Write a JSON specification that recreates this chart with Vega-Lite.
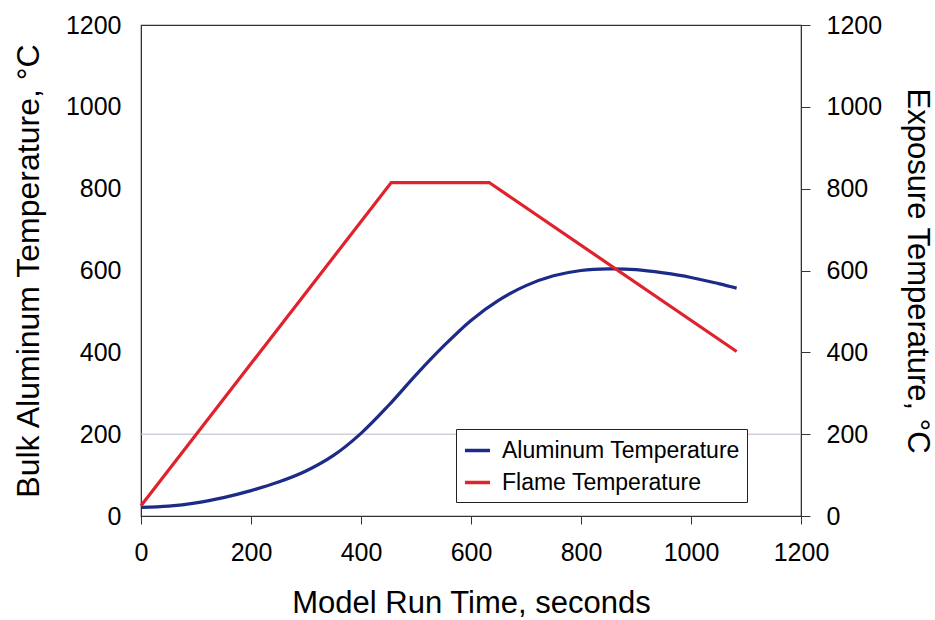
{
  "$schema": "https://vega.github.io/schema/vega-lite/v6.json",
  "autosize": {"type": "none"},
  "padding": {"left": 141, "top": 25, "right": 134, "bottom": 104},
  "width": 660,
  "height": 491,
  "background": "white",
  "config": {
    "font": "Liberation Sans",
    "view": {"stroke": "#333333", "strokeWidth": 1.2},
    "axis": {
      "labelFont": "Liberation Sans",
      "titleFont": "Liberation Sans",
      "labelColor": "black",
      "titleColor": "black",
      "labelFontSize": 25,
      "titleFontSize": 31,
      "titleFontWeight": "normal",
      "domainColor": "#333333",
      "tickColor": "#333333",
      "grid": false,
      "format": "d"
    }
  },
  "datasets": {
    "temps": [
      {"t": 0, "series": "Aluminum Temperature", "v": 21},
      {"t": 50, "series": "Aluminum Temperature", "v": 24},
      {"t": 100, "series": "Aluminum Temperature", "v": 32},
      {"t": 150, "series": "Aluminum Temperature", "v": 45},
      {"t": 200, "series": "Aluminum Temperature", "v": 62},
      {"t": 250, "series": "Aluminum Temperature", "v": 83},
      {"t": 300, "series": "Aluminum Temperature", "v": 110},
      {"t": 350, "series": "Aluminum Temperature", "v": 148},
      {"t": 400, "series": "Aluminum Temperature", "v": 202},
      {"t": 450, "series": "Aluminum Temperature", "v": 270},
      {"t": 500, "series": "Aluminum Temperature", "v": 345},
      {"t": 550, "series": "Aluminum Temperature", "v": 415},
      {"t": 600, "series": "Aluminum Temperature", "v": 478},
      {"t": 650, "series": "Aluminum Temperature", "v": 527},
      {"t": 700, "series": "Aluminum Temperature", "v": 563},
      {"t": 750, "series": "Aluminum Temperature", "v": 587},
      {"t": 800, "series": "Aluminum Temperature", "v": 600},
      {"t": 850, "series": "Aluminum Temperature", "v": 604},
      {"t": 900, "series": "Aluminum Temperature", "v": 602},
      {"t": 950, "series": "Aluminum Temperature", "v": 594},
      {"t": 1000, "series": "Aluminum Temperature", "v": 583},
      {"t": 1050, "series": "Aluminum Temperature", "v": 568},
      {"t": 1083, "series": "Aluminum Temperature", "v": 557},
      {"t": 0, "series": "Flame Temperature", "v": 25},
      {"t": 455, "series": "Flame Temperature", "v": 815},
      {"t": 633, "series": "Flame Temperature", "v": 815},
      {"t": 1083, "series": "Flame Temperature", "v": 402}
    ],
    "grid": [{"g": 200}]
  },
  "layer": [
    {
      "data": {"name": "grid"},
      "mark": {"type": "rule", "stroke": "#b8b8c8", "strokeWidth": 1},
      "encoding": {
        "y": {"field": "g", "type": "quantitative", "scale": {"domain": [0, 1200], "nice": false}, "axis": null}
      }
    },
    {
      "data": {"name": "temps"},
      "transform": [{"filter": "datum.series === 'Aluminum Temperature'"}],
      "mark": {"type": "line", "interpolate": "catmull-rom", "strokeWidth": 3.2},
      "encoding": {
        "x": {
          "field": "t", "type": "quantitative",
          "scale": {"domain": [0, 1200], "nice": false},
          "axis": {
            "title": "Model Run Time, seconds",
            "values": [0, 200, 400, 600, 800, 1000, 1200],
            "tickSize": 8, "labelPadding": 16, "titlePadding": 23,
            "labelFlush": false
          }
        },
        "y": {
          "field": "v", "type": "quantitative",
          "scale": {"domain": [0, 1200], "nice": false},
          "axis": {
            "title": "Bulk Aluminum Temperature, °C",
            "orient": "left",
            "values": [0, 200, 400, 600, 800, 1000, 1200],
            "ticks": false, "labelPadding": 20, "titlePadding": 20,
            "titleFontSize": 32
          }
        },
        "color": {
          "field": "series", "type": "nominal",
          "scale": {"domain": ["Aluminum Temperature", "Flame Temperature"], "range": ["#1c2a88", "#e0222c"]},
          "legend": {
            "title": null,
            "orient": "none",
            "legendX": 315,
            "legendY": 404,
            "fillColor": "white",
            "strokeColor": "#222222",
            "padding": 7,
            "symbolType": "stroke",
            "symbolSize": 625,
            "symbolStrokeWidth": 3.5,
            "labelFont": "Liberation Sans",
            "labelFontSize": 23,
            "labelColor": "black",
            "labelOffset": 10,
            "labelLimit": 400,
            "rowPadding": 5
          }
        }
      }
    },
    {
      "data": {"name": "temps"},
      "transform": [{"filter": "datum.series === 'Flame Temperature'"}],
      "mark": {"type": "line", "strokeWidth": 3.2},
      "encoding": {
        "x": {"field": "t", "type": "quantitative", "scale": {"domain": [0, 1200], "nice": false}},
        "y": {
          "field": "v", "type": "quantitative",
          "scale": {"domain": [0, 1200], "nice": false},
          "axis": {
            "title": "Exposure Temperature, °C",
            "orient": "right",
            "values": [0, 200, 400, 600, 800, 1000, 1200],
            "tickSize": 9, "labelPadding": 16, "titlePadding": 19,
            "titleFontSize": 31
          }
        },
        "color": {"field": "series", "type": "nominal"}
      }
    }
  ],
  "resolve": {"scale": {"y": "independent"}}
}
